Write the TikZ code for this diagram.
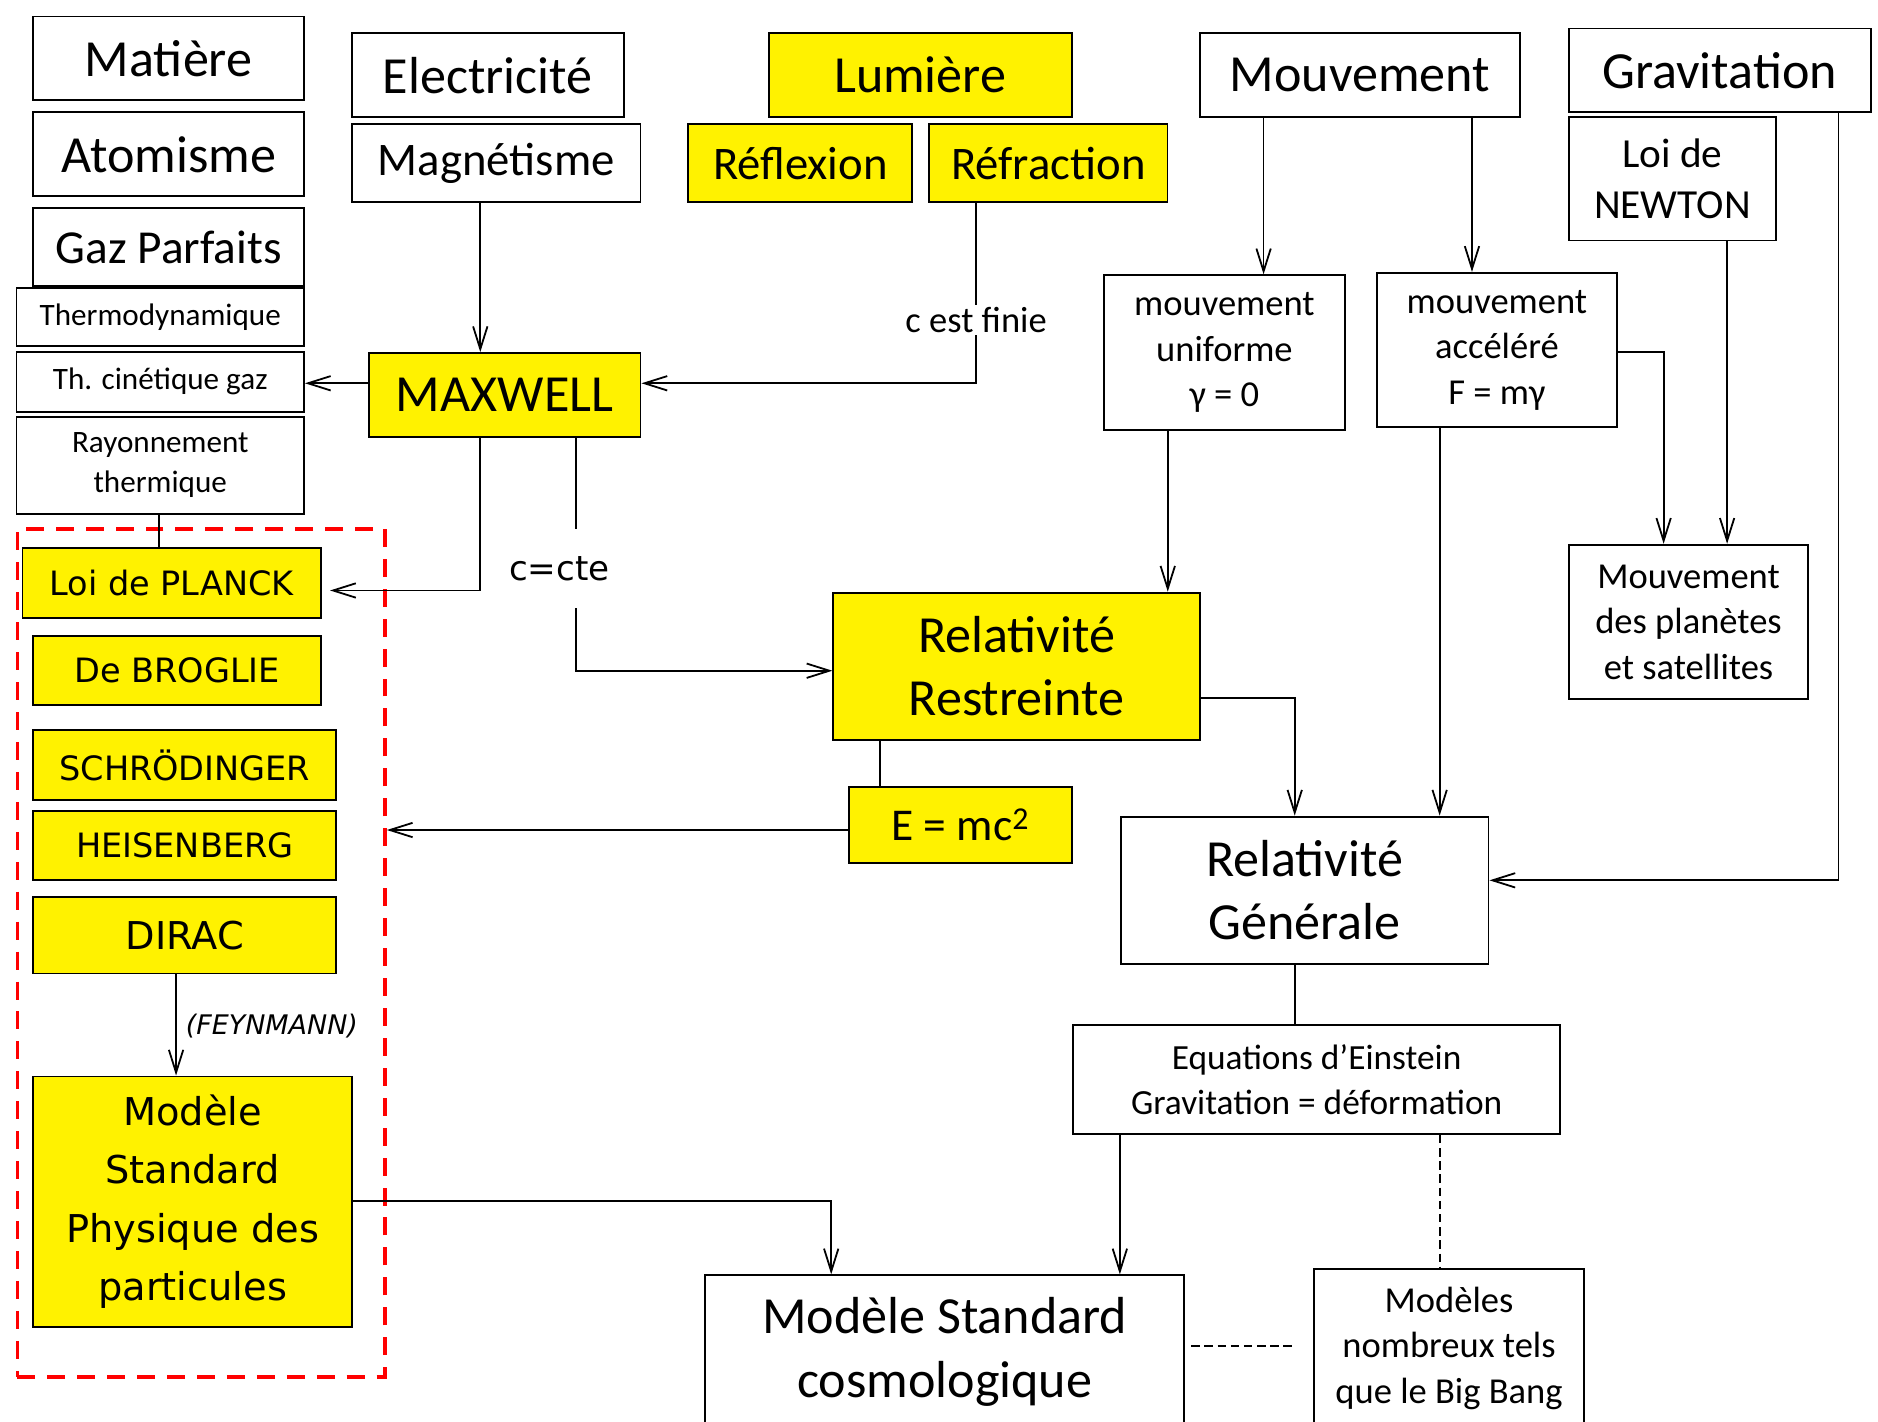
\documentclass[tikz,border=0pt]{standalone}
\usepackage{fontspec}
\setmainfont{Carlito}
\newfontfamily\vfont{DejaVu Sans}
\usetikzlibrary{arrows.meta}
\begin{document}
\begin{tikzpicture}[x=1pt,y=-1pt,
  bx/.style={draw, line width=1.6pt, inner sep=0pt, align=center, anchor=north west},
  yb/.style={bx, fill=yellow},
  fbig/.style={font=\fontsize{43.5}{53}\selectfont},
  fmid/.style={font=\fontsize{39}{47}\selectfont},
  fsm/.style={font=\fontsize{26}{33}\selectfont},
  ftx/.style={font=\fontsize{30.5}{38}\selectfont},
  fv/.style={font=\vfont\fontsize{28}{34}\selectfont},
  con/.style={line width=1.5pt},
  arr/.style={con, -{Straight Barb[length=19pt,width=12pt,line width=1.5pt]}},
  lbl/.style={fill=white, inner sep=2pt},
]
\useasboundingbox[fill=white] (0,0) rectangle (1568,1187);

% left column
\node[bx,fbig,minimum width=226pt,minimum height=70pt] (mat) at (27,13) {Matière};
\node[bx,fbig,minimum width=226pt,minimum height=70pt] (atom) at (27,93) {Atomisme};
\node[bx,font=\fontsize{39.5}{47}\selectfont,minimum width=226pt,minimum height=65pt] (gaz) at (27,173) {Gaz Parfaits};
\node[bx,fsm,minimum width=240pt,minimum height=48pt] (thermo) at (13,240) {Thermodynamique};
\node[bx,fsm,minimum width=240pt,minimum height=50pt] (thcin) at (13,293) {Th. cinétique gaz};
\node[bx,fsm,minimum width=240pt,minimum height=81pt] (rayon) at (13,347) {Rayonnement\\thermique};

% electricity / light
\node[bx,fbig,minimum width=227pt,minimum height=70pt] (elec) at (293,27) {Electricité};
\node[bx,fmid,minimum width=241pt,minimum height=65pt] (mag) at (293,103) {Magnétisme};
\node[yb,fbig,minimum width=253pt,minimum height=70pt] (lum) at (641,27) {Lumière};
\node[yb,fmid,minimum width=187pt,minimum height=65pt] (refl) at (574,103) {Réflexion};
\node[yb,fmid,minimum width=199pt,minimum height=65pt] (refr) at (775,103) {Réfraction};
\node[yb,fbig,minimum width=227pt,minimum height=70pt] (maxw) at (307,294) {MAXWELL};

% movement / gravitation
\node[bx,fbig,minimum width=267pt,minimum height=70pt] (mouv) at (1001,27) {Mouvement};
\node[bx,fbig,minimum width=252pt,minimum height=70pt] (grav) at (1309,23) {Gravitation};
\node[bx,font=\fontsize{34.5}{42}\selectfont,minimum width=173pt,minimum height=103pt] (newton) at (1309,97) {Loi de\\NEWTON};
\node[bx,ftx,minimum width=201pt,minimum height=129pt] (unif) at (921,229) {mouvement\\uniforme\\γ = 0};
\node[bx,ftx,minimum width=200pt,minimum height=129pt] (accel) at (1149,227) {mouvement\\accéléré\\F = mγ};
\node[bx,ftx,minimum width=200pt,minimum height=129pt] (planet) at (1309,454) {Mouvement\\des planètes\\et satellites};

% relativity
\node[yb,fbig,minimum width=306pt,minimum height=123pt] (rr) at (695,494) {Relativité\\Restreinte};
\node[bx,fbig,minimum width=307pt,minimum height=123pt] (rg) at (935,681) {Relativité\\Générale};
\node[yb,font=\fontsize{38}{46}\selectfont,minimum width=186pt,minimum height=64pt] (emc) at (708,656) {E = mc\textsuperscript{2}};
\node[bx,font=\fontsize{29.5}{38}\selectfont,minimum width=407pt,minimum height=91pt] (eq) at (895,855) {Equations d’Einstein\\Gravitation = déformation};
\node[bx,fbig,minimum width=400pt,minimum height=128pt] (msc) at (588,1064) {Modèle Standard\\cosmologique};
\node[bx,ftx,minimum width=226pt,minimum height=132pt] (modeles) at (1096,1059) {Modèles\\nombreux tels\\que le Big Bang};

% quantum group
\node[draw=red, line width=3pt, dash pattern=on 15pt off 10pt, inner sep=0pt, anchor=north west, minimum width=307pt, minimum height=708pt] (qm) at (13,440) {};
\node[yb,fv,minimum width=249pt,minimum height=58pt] (planck) at (18,457) {Loi de PLANCK};
\node[yb,fv,minimum width=240pt,minimum height=58pt] (broglie) at (27,530) {De BROGLIE};
\node[yb,fv,minimum width=253pt,minimum height=58pt] (schro) at (27,609) {SCHRÖDINGER};
\node[yb,fv,minimum width=253pt,minimum height=58pt] (heis) at (27,676) {HEISENBERG};
\node[yb,font=\vfont\fontsize{32}{40}\selectfont,minimum width=253pt,minimum height=64pt] (dirac) at (27,748) {DIRAC};
\node[yb,font=\vfont\fontsize{32}{48.5}\selectfont,minimum width=266pt,minimum height=209pt] (msp) at (27,898) {Modèle\\Standard\\Physique des\\particules};

% connectors
\draw[arr] (mag.south -| 401,0) -- (maxw.north -| 401,0);
\draw[arr] (maxw.west |- 0,320) -- (thcin.east |- 0,320);
\draw[arr] (refr.south -| 815,0) -- (815,320) -- (maxw.east |- 0,320);
\node[lbl,ftx] (cfin) at (815,267) {c est finie};
\draw[arr] (mouv.south -| 1055,0) -- (unif.north -| 1055,0);
\draw[arr] (mouv.south -| 1229,0) -- (accel.north -| 1229,0);
\draw[arr] (newton.south -| 1442,0) -- (planet.north -| 1442,0);
\draw[arr] (accel.east |- 0,294) -- (1389,294) -- (planet.north -| 1389,0);
\draw[arr] (grav.south -| 1535,0) -- (1535,735) -- (rg.east |- 0,735);
\draw[arr] (unif.south -| 975,0) -- (rr.north -| 975,0);
\draw[arr] (accel.south -| 1202,0) -- (rg.north -| 1202,0);
\draw[arr] (rr.east |- 0,583) -- (1081,583) -- (rg.north -| 1081,0);
\draw[con] (rr.south -| 735,0) -- (emc.north -| 735,0);
\draw[arr] (emc.west |- 0,693) -- (qm.east |- 0,693);
\draw[arr, shorten >=7pt] (maxw.south -| 401,0) -- (401,493) -- (planck.east |- 0,493);
\draw[arr] (maxw.south -| 481,0) -- (481,560) -- (rr.west |- 0,560);
\node[lbl,font=\vfont\fontsize{28.5}{34}\selectfont,minimum height=66pt] (cte) at (467,475) {c=cte};
\draw[con] (rayon.south -| 133,0) -- (planck.north -| 133,0);
\draw[arr] (dirac.south -| 147,0) -- (msp.north -| 147,0);
\node[font=\vfont\itshape\fontsize{22.5}{28}\selectfont] (feyn) at (227,857) {(FEYNMANN)};
\draw[arr] (msp.east |- 0,1003) -- (694,1003) -- (msc.north -| 694,0);
\draw[con] (rg.south -| 1081,0) -- (eq.north -| 1081,0);
\draw[arr] (eq.south -| 935,0) -- (msc.north -| 935,0);
\draw[con, dash pattern=on 7pt off 4pt] (eq.south -| 1202,0) -- (modeles.north -| 1202,0);
\draw[con, dash pattern=on 7pt off 4pt, shorten <=5pt, shorten >=14pt] (msc.east |- 0,1124) -- (modeles.west |- 0,1124);
\end{tikzpicture}
\end{document}
